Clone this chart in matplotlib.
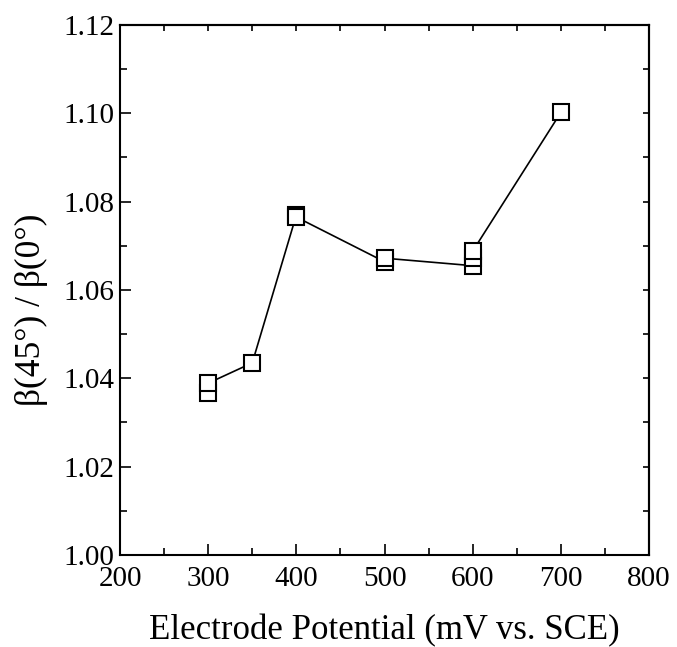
import matplotlib
matplotlib.use("Agg")
import matplotlib.pyplot as plt
import numpy as np

# data (several runs per potential)
potential = [300, 300, 350, 400, 400, 500, 500, 600, 600, 600, 700]
ratio = [1.0366, 1.0389, 1.0435, 1.0770, 1.0765, 1.0664, 1.0672,
         1.0655, 1.0673, 1.0688, 1.1002]

plt.rcParams['font.family'] = ['Liberation Serif', 'DejaVu Serif']

fig = plt.figure(figsize=(6.77, 6.47), dpi=100)
ax = fig.add_axes([0.1773, 0.1422, 0.9587 - 0.1773, 0.9614 - 0.1422])

ax.plot(potential, ratio, color='black', lw=1.2, marker='s', ms=11,
        mfc='white', mec='black', mew=1.5)

ax.set_xlim(200, 800)
ax.set_ylim(1.00, 1.12)
ax.set_xticks(np.arange(200, 801, 100))
ax.set_xticks(np.arange(250, 800, 100), minor=True)
ax.set_yticks(np.arange(1.00, 1.1201, 0.02))
ax.set_yticks(np.arange(1.01, 1.12, 0.02), minor=True)
ax.set_yticklabels([f"{v:.2f}" for v in np.arange(1.00, 1.1201, 0.02)])

for s in ax.spines.values():
    s.set_linewidth(1.5)

ax.tick_params(which='major', direction='in', length=8, width=1.2,
               labelsize=21)
ax.tick_params(axis='x', which='major', pad=8)
ax.tick_params(axis='y', which='major', pad=4)
ax.tick_params(which='minor', direction='in', length=5, width=1.2)

# small ticks on the top and right sides
top = ax.secondary_xaxis('top')
top.set_xticks(np.arange(200, 801, 50))
top.tick_params(direction='in', length=4, width=1.2, labeltop=False)
right = ax.secondary_yaxis('right')
right.set_yticks(np.arange(1.00, 1.121, 0.01))
right.tick_params(direction='in', length=4, width=1.2, labelright=False)
for sec in (top, right):
    for s in sec.spines.values():
        s.set_linewidth(1.5)

ax.set_xlabel("Electrode Potential (mV vs. SCE)", fontsize=25)
ax.xaxis.set_label_coords(0.5, -0.111)
ax.set_ylabel("β(45°) / β(0°)", fontsize=25.5)
ax.yaxis.set_label_coords(-0.136, 0.462)

fig.savefig("out.png", dpi=100)
